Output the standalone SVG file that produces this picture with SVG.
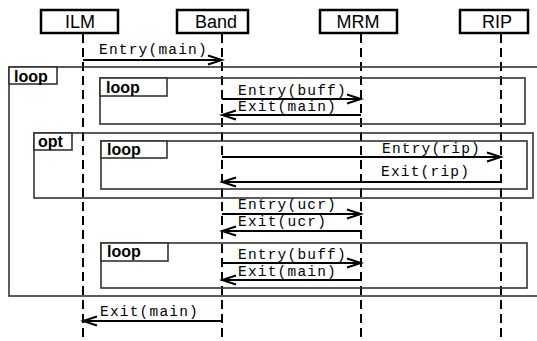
<svg xmlns="http://www.w3.org/2000/svg" width="537" height="341" viewBox="0 0 537 341">
<style>
.hdr{fill:#fff;stroke:#000;stroke-width:2.5}
.hdrt{font-family:"Liberation Sans",Arial,sans-serif;font-size:18px;fill:#000;text-anchor:middle}
.life{stroke:#000;stroke-width:2;stroke-dasharray:9,5;fill:none}
.frame{fill:none;stroke:#333;stroke-width:1.6}
.tab{fill:#fff;stroke:#333;stroke-width:1.6}
.tabt{font-family:"Liberation Sans",Arial,sans-serif;font-size:16px;font-weight:bold;fill:#000}
.msg{stroke:#000;stroke-width:2;fill:none}
.msgt{font-family:"Liberation Mono","Courier New",monospace;font-size:14.5px;letter-spacing:1.2px;fill:#000}
</style>
<defs>
<marker id="arr" markerUnits="userSpaceOnUse" markerWidth="18" markerHeight="12" refX="15" refY="6" orient="auto">
<path d="M1,1.5 L15,6 L1,10.5" fill="none" stroke="#000" stroke-width="2"/>
</marker>
</defs>
<rect width="537" height="341" fill="#fff"/>
<g id="lifelines">
<line class="life" x1="83" y1="34" x2="83" y2="341"/>
<line class="life" x1="222" y1="34" x2="222" y2="341"/>
<line class="life" x1="361" y1="34" x2="361" y2="341"/>
<line class="life" x1="501" y1="34" x2="501" y2="341"/>
</g>
<g id="ILM"><rect class="hdr" x="41" y="10" width="77" height="23"/><text class="hdrt" x="80" y="28">ILM</text></g>
<g id="Band"><rect class="hdr" x="177" y="10" width="71" height="23"/><text class="hdrt" x="216" y="28">Band</text></g>
<g id="MRM"><rect class="hdr" x="320" y="10" width="77" height="23"/><text class="hdrt" x="358" y="28">MRM</text></g>
<g id="RIP"><rect class="hdr" x="460" y="10" width="68" height="23"/><text class="hdrt" x="497" y="28">RIP</text></g>
<g id="frames">
<g id="loop-outer"><rect class="frame" x="9" y="67" width="540" height="229"/><rect class="tab" x="9" y="67" width="48" height="17"/><text class="tabt" x="14" y="82">loop</text></g>
<g id="loop-1"><rect class="frame" x="100" y="78" width="425" height="46"/><rect class="tab" x="100" y="78" width="67" height="18"/><text class="tabt" x="106" y="93">loop</text></g>
<g id="opt"><rect class="frame" x="34" y="133" width="499" height="65"/><rect class="tab" x="34" y="133" width="38" height="17"/><text class="tabt" x="38" y="147">opt</text></g>
<g id="loop-2"><rect class="frame" x="101" y="141" width="426" height="48"/><rect class="tab" x="101" y="141" width="66" height="17"/><text class="tabt" x="107" y="155">loop</text></g>
<g id="loop-3"><rect class="frame" x="101" y="243" width="426" height="45"/><rect class="tab" x="101" y="243" width="67" height="18"/><text class="tabt" x="107" y="257">loop</text></g>
</g>
<g id="connectors">
<line class="msg" x1="83" y1="60" x2="222" y2="60" marker-end="url(#arr)"/>
<text class="msgt" x="99" y="54">Entry(main)</text>
<line class="msg" x1="222" y1="99" x2="361" y2="99" marker-end="url(#arr)"/>
<text class="msgt" x="238" y="95">Entry(buff)</text>
<line class="msg" x1="361" y1="115" x2="222" y2="115" marker-end="url(#arr)"/>
<text class="msgt" x="238" y="111">Exit(main)</text>
<line class="msg" x1="222" y1="157" x2="501" y2="157" marker-end="url(#arr)"/>
<text class="msgt" x="382" y="153">Entry(rip)</text>
<line class="msg" x1="501" y1="182" x2="222" y2="182" marker-end="url(#arr)"/>
<text class="msgt" x="381" y="176">Exit(rip)</text>
<line class="msg" x1="222" y1="214" x2="361" y2="214" marker-end="url(#arr)"/>
<text class="msgt" x="238" y="209">Entry(ucr)</text>
<line class="msg" x1="361" y1="231" x2="222" y2="231" marker-end="url(#arr)"/>
<text class="msgt" x="238" y="226">Exit(ucr)</text>
<line class="msg" x1="222" y1="263" x2="361" y2="263" marker-end="url(#arr)"/>
<text class="msgt" x="238" y="259">Entry(buff)</text>
<line class="msg" x1="361" y1="280" x2="222" y2="280" marker-end="url(#arr)"/>
<text class="msgt" x="238" y="276">Exit(main)</text>
<line class="msg" x1="222" y1="321" x2="83" y2="321" marker-end="url(#arr)"/>
<text class="msgt" x="100" y="316">Exit(main)</text>
</g>
</svg>
